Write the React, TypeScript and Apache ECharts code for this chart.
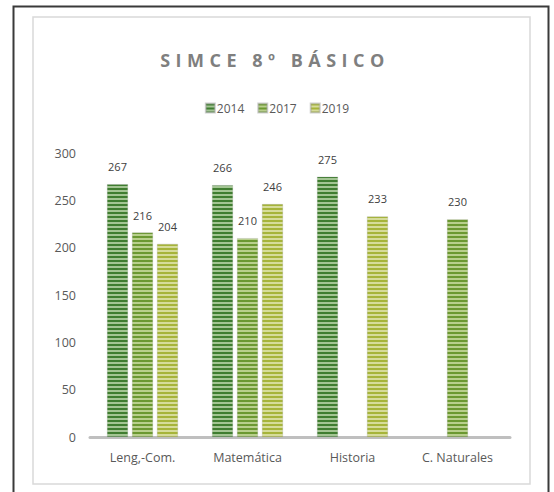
import React, { useEffect, useRef } from "react";
import * as echarts from "echarts";

const categories = ["Leng,-Com.", "Matemática", "Historia", "C. Naturales"];
const years = ["2014", "2017", "2019"];
const values2014 = [267, 266, 275, null];
const values2017 = [216, 210, null, 230];
const values2019 = [204, 246, 233, null];
const yTicks = [0, 50, 100, 150, 200, 250, 300];
const titleText = "SIMCE 8º BÁSICO";

const palette = [
  { dark: "#3f7d30", light: "#a3c593" },
  { dark: "#6b9831", light: "#b8cf8c" },
  { dark: "#a6b43a", light: "#d6dc9a" },
];

function stripe(dark: string, light: string): string {
  const c = document.createElement("canvas");
  c.width = 4;
  c.height = 4;
  const ctx = c.getContext("2d")!;
  ctx.fillStyle = light;
  ctx.fillRect(0, 0, 4, 4);
  ctx.fillStyle = dark;
  ctx.fillRect(0, 0, 4, 2);
  return c.toDataURL();
}

export default function App() {
  const ref = useRef<HTMLDivElement>(null);
  useEffect(() => {
    if (!ref.current) return;
    const chart = echarts.init(ref.current, null, { renderer: "svg" });
    const seriesData = [values2014, values2017, values2019];
    const font = "'Open Sans', 'Noto Sans', sans-serif";
    chart.setOption({
      animation: false,
      backgroundColor: "#ffffff",
      title: {
        text: titleText,
        left: 270,
        top: 46,
        textAlign: "center",
        textStyle: {
          fontFamily: font,
          fontSize: 18,
          fontWeight: "bold",
          color: "#7f7f7f",
        },
      },
      legend: {
        top: 97,
        left: "center",
        itemWidth: 9,
        itemHeight: 9,
        itemGap: 13,
        icon: "rect",
        textStyle: { fontFamily: font, fontSize: 12, color: "#595959", padding: [0, 0, 0, -3] },
        data: years,
      },
      graphic: [
        {
          type: "rect",
          shape: { x: 13.5, y: 6.5, width: 535, height: 520 },
          style: { fill: "none", stroke: "#3a3a3a", lineWidth: 2 },
          silent: true,
        },
        {
          type: "rect",
          shape: { x: 33, y: 17, width: 497, height: 467 },
          style: { fill: "none", stroke: "#d9d9d9", lineWidth: 1.5 },
          silent: true,
        },
      ],
      grid: { left: 90, right: 44, top: 153, bottom: 55, containLabel: false },
      xAxis: {
        type: "category",
        data: categories,
        axisLine: { lineStyle: { color: "#bfbfbf", width: 3 } },
        axisTick: { show: false },
        axisLabel: { fontFamily: font, fontSize: 12.5, color: "#595959", margin: 14 },
      },
      yAxis: {
        type: "value",
        min: yTicks[0],
        max: yTicks[yTicks.length - 1],
        interval: 50,
        splitLine: { show: false },
        axisLine: { show: false },
        axisTick: { show: false },
        axisLabel: { fontFamily: font, fontSize: 12.5, color: "#595959", margin: 14 },
      },
      series: years.map((y, i) => ({
        name: y,
        type: "bar",
        data: seriesData[i],
        barWidth: 21,
        barGap: "19%",
        itemStyle: {
          color: {
            image: stripe(palette[i].dark, palette[i].light),
            repeat: "repeat",
          },
          borderColor: "rgba(160,160,160,0.5)",
          borderWidth: 0.5,
        },
        label: {
          show: true,
          position: "top",
          distance: 12,
          fontFamily: font,
          fontSize: 11,
          color: "#404040",
        },
      })),
    });
    // widen the title's letter spacing like the original
    const texts = ref.current.querySelectorAll("text");
    texts.forEach((t) => {
      if (t.textContent === titleText) t.setAttribute("letter-spacing", "5.5");
    });
    return () => chart.dispose();
  }, []);
  return (
    <div
      ref={ref}
      style={{ position: "absolute", left: 0, top: 0, width: 554, height: 492 }}
    />
  );
}
